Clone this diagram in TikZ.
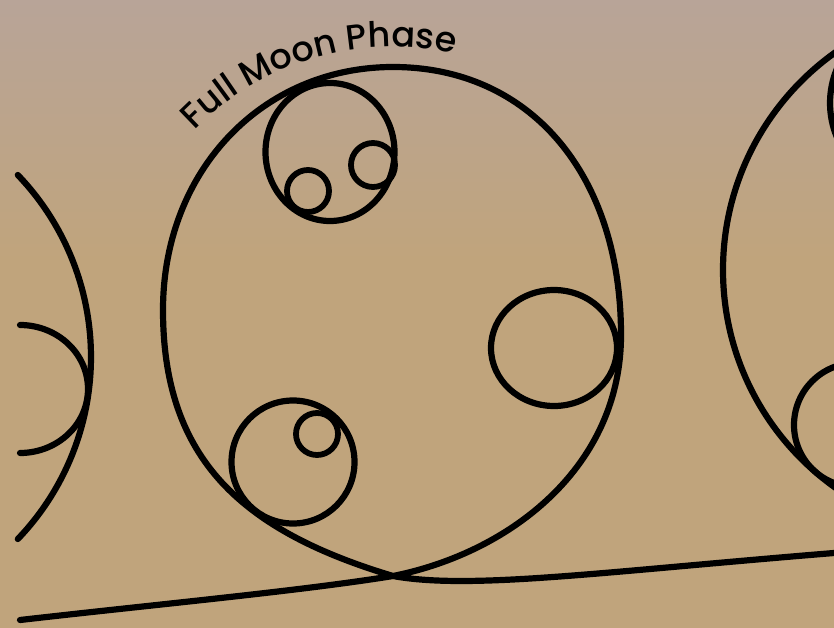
\documentclass[tikz,border=0pt]{standalone}
\usepackage{fontspec}
\newfontfamily\labfont{Poppins Medium}
\usetikzlibrary{decorations.text}
\definecolor{bgtop}{HTML}{B8A498}
\definecolor{bgbot}{HTML}{C0A47C}
\begin{document}
\begin{tikzpicture}[x=1pt,y=-1pt,
  ink/.style={draw=black, line width=6.2pt, line cap=round, line join=round},
  thin ink/.style={draw=black, line width=5.8pt, line cap=round, line join=round}]
\useasboundingbox (0,0) rectangle (834,628);
\fill[bgbot] (0,0) rectangle (834,628);
\shade[top color=bgtop, bottom color=bgbot] (0,0) rectangle (834,260);
\clip (0,0) rectangle (834,628);

% left partial circles
\draw[ink] plot[domain=-43.8:43.8, samples=60] ({-172+263*cos(\x)},{357+263*sin(\x)});
\draw[ink] plot[domain=-90:90, samples=60] ({20+68*cos(\x)},{389+64*sin(\x)});

% main loop path
\coordinate (X) at (393,576);
\draw[ink] (20,620) .. controls (160,604) and (300,591) .. (X)
  .. controls (513,552) and (621,465) .. (621,335)
  .. controls (621,174) and (530,67) .. (393,67)
  .. controls (262,67) and (163,171) .. (163,310)
  .. controls (163,460) and (243,531) .. (X)
  .. controls (470,590) and (600,572) .. (834,553);

% circles inside the loop
\draw[ink] (330,152) ellipse [x radius=64.5, y radius=69];
\draw[thin ink] (308,191) circle [radius=21];
\draw[thin ink] (373,165) circle [radius=22];
\draw[ink] (554,348) ellipse [x radius=63, y radius=58];
\draw[ink] (293,462) circle [radius=61.5];
\draw[thin ink] (317,434) circle [radius=21];

% right partial circles
\draw[ink] (990,270) circle [radius=267];
\draw[ink] (918,103) circle [radius=88];
\draw[ink] (856,425) circle [radius=62];

% curved label
\path[decorate, decoration={text along path, text align=center,
  text={|\labfont\fontsize{35pt}{35pt}\selectfont|Full Moon Phase}}]
  (392,322) ++(166.35:275pt) arc[start angle=166.35, end angle=46.35, radius=275pt];
\end{tikzpicture}
\end{document}
